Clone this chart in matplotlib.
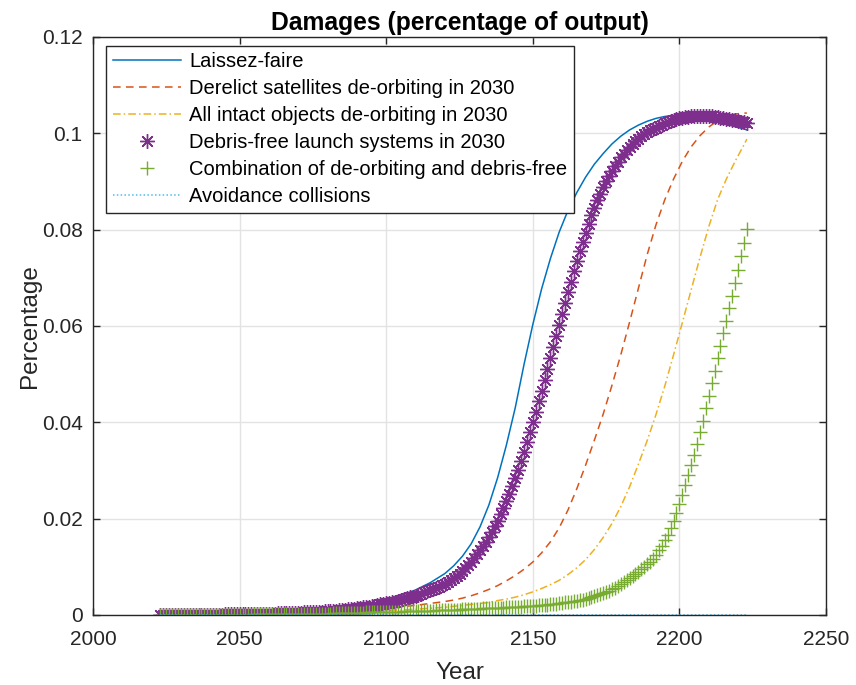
import matplotlib
matplotlib.use("Agg")
import matplotlib.pyplot as plt
from matplotlib.ticker import FormatStrFormatter

plt.rcParams['font.family'] = ['Liberation Sans', 'DejaVu Sans']

# yearly points for the marker series
years = list(range(2023, 2224))

# points for the plain line series (denser where the curves bend)
line_years = [2023, 2030, 2040, 2050, 2060, 2070, 2080, 2090, 2100, 2105, 2110, 2115,
              2120, 2123, 2126, 2129, 2132, 2135, 2138, 2141, 2144, 2147, 2150, 2153,
              2156, 2159, 2162, 2165, 2168, 2171, 2174, 2177, 2180, 2183, 2186, 2189,
              2192, 2195, 2198, 2201, 2204, 2207, 2210, 2213, 2216, 2219, 2222, 2223]

laissez_faire = [0.0000, 0.0001, 0.0001, 0.0002, 0.0003, 0.0005, 0.0009, 0.0017, 0.0030, 0.0040, 0.0052, 0.0067,
                 0.0086, 0.0102, 0.0122, 0.0148, 0.0183, 0.0228, 0.0285, 0.0353, 0.0430, 0.0520, 0.0603, 0.0677,
                 0.0740, 0.0795, 0.0840, 0.0877, 0.0909, 0.0936, 0.0958, 0.0978, 0.0994, 0.1007, 0.1017, 0.1025,
                 0.1031, 0.1035, 0.1037, 0.1037, 0.1035, 0.1032, 0.1028, 0.1024, 0.1019, 0.1014, 0.1009, 0.1007]

derelict = [0.0000, 0.0001, 0.0001, 0.0002, 0.0003, 0.0005, 0.0007, 0.0010, 0.0014, 0.0017, 0.0020, 0.0024,
            0.0028, 0.0031, 0.0035, 0.0040, 0.0046, 0.0053, 0.0061, 0.0071, 0.0082, 0.0095, 0.0110, 0.0129,
            0.0152, 0.0181, 0.0218, 0.0262, 0.0311, 0.0363, 0.0417, 0.0477, 0.0540, 0.0608, 0.0678, 0.0748,
            0.0810, 0.0862, 0.0905, 0.0942, 0.0972, 0.0995, 0.1013, 0.1026, 0.1035, 0.1040, 0.1042, 0.1042]

intact = [0.0000, 0.0000, 0.0001, 0.0001, 0.0002, 0.0003, 0.0005, 0.0007, 0.0009, 0.0010, 0.0012, 0.0014,
          0.0016, 0.0018, 0.0020, 0.0022, 0.0024, 0.0026, 0.0030, 0.0033, 0.0037, 0.0042, 0.0048, 0.0055,
          0.0063, 0.0072, 0.0084, 0.0098, 0.0115, 0.0136, 0.0161, 0.0190, 0.0225, 0.0266, 0.0313, 0.0362,
          0.0416, 0.0475, 0.0540, 0.0607, 0.0675, 0.0742, 0.0806, 0.0862, 0.0905, 0.0942, 0.0976, 0.0988]

avoidance = [0.0] * len(line_years)

debris_free = [
    0.0000, 0.0000, 0.0001, 0.0001, 0.0001, 0.0001, 0.0001,                          # 2023-2029
    0.0001, 0.0001, 0.0001, 0.0001, 0.0001, 0.0001, 0.0001, 0.0001, 0.0001, 0.0001,  # 2030s
    0.0001, 0.0001, 0.0001, 0.0001, 0.0001, 0.0002, 0.0002, 0.0002, 0.0002, 0.0002,  # 2040s
    0.0002, 0.0002, 0.0002, 0.0002, 0.0002, 0.0003, 0.0003, 0.0003, 0.0003, 0.0003,  # 2050s
    0.0003, 0.0003, 0.0003, 0.0004, 0.0004, 0.0004, 0.0004, 0.0004, 0.0005, 0.0005,  # 2060s
    0.0005, 0.0005, 0.0006, 0.0006, 0.0006, 0.0006, 0.0007, 0.0007, 0.0007, 0.0008,  # 2070s
    0.0008, 0.0008, 0.0009, 0.0009, 0.0010, 0.0010, 0.0011, 0.0012, 0.0012, 0.0013,  # 2080s
    0.0014, 0.0015, 0.0016, 0.0016, 0.0017, 0.0018, 0.0019, 0.0020, 0.0022, 0.0023,  # 2090s
    0.0024, 0.0025, 0.0027, 0.0028, 0.0030, 0.0031, 0.0033, 0.0035, 0.0037, 0.0038,  # 2100s
    0.0040, 0.0042, 0.0044, 0.0047, 0.0049, 0.0052, 0.0054, 0.0057, 0.0059, 0.0062,  # 2110s
    0.0065, 0.0069, 0.0073, 0.0077, 0.0081, 0.0086, 0.0092, 0.0098, 0.0104, 0.0111,  # 2120s
    0.0118, 0.0126, 0.0134, 0.0143, 0.0152, 0.0162, 0.0173, 0.0184, 0.0196, 0.0209,  # 2130s
    0.0222, 0.0237, 0.0252, 0.0268, 0.0285, 0.0302, 0.0320, 0.0339, 0.0359, 0.0379,  # 2140s
    0.0400, 0.0422, 0.0444, 0.0466, 0.0488, 0.0510, 0.0533, 0.0556, 0.0579, 0.0602,  # 2150s
    0.0625, 0.0648, 0.0670, 0.0692, 0.0714, 0.0735, 0.0755, 0.0775, 0.0794, 0.0812,  # 2160s
    0.0830, 0.0846, 0.0861, 0.0875, 0.0888, 0.0900, 0.0911, 0.0922, 0.0932, 0.0941,  # 2170s
    0.0950, 0.0958, 0.0965, 0.0972, 0.0978, 0.0984, 0.0989, 0.0994, 0.0998, 0.1002,  # 2180s
    0.1006, 0.1009, 0.1012, 0.1015, 0.1018, 0.1021, 0.1023, 0.1025, 0.1027, 0.1029,  # 2190s
    0.1031, 0.1032, 0.1033, 0.1034, 0.1035, 0.1036, 0.1036, 0.1036, 0.1036, 0.1036,  # 2200s
    0.1035, 0.1035, 0.1034, 0.1033, 0.1032, 0.1031, 0.1030, 0.1029, 0.1028, 0.1027,  # 2210s
    0.1025, 0.1024, 0.1023, 0.1021,                                                  # 2220-2223
]

combination = [
    0.0000, 0.0000, 0.0000, 0.0000, 0.0000, 0.0000, 0.0000,                          # 2023-2029
    0.0000, 0.0000, 0.0000, 0.0000, 0.0000, 0.0001, 0.0001, 0.0001, 0.0001, 0.0001,  # 2030s
    0.0001, 0.0001, 0.0001, 0.0001, 0.0001, 0.0001, 0.0001, 0.0001, 0.0001, 0.0001,  # 2040s
    0.0001, 0.0001, 0.0001, 0.0001, 0.0001, 0.0002, 0.0002, 0.0002, 0.0002, 0.0002,  # 2050s
    0.0002, 0.0002, 0.0002, 0.0002, 0.0002, 0.0002, 0.0002, 0.0002, 0.0002, 0.0002,  # 2060s
    0.0002, 0.0002, 0.0003, 0.0003, 0.0003, 0.0003, 0.0003, 0.0003, 0.0003, 0.0003,  # 2070s
    0.0003, 0.0003, 0.0004, 0.0004, 0.0004, 0.0004, 0.0004, 0.0005, 0.0005, 0.0005,  # 2080s
    0.0005, 0.0005, 0.0005, 0.0006, 0.0006, 0.0006, 0.0006, 0.0006, 0.0006, 0.0006,  # 2090s
    0.0006, 0.0007, 0.0007, 0.0007, 0.0007, 0.0007, 0.0008, 0.0008, 0.0008, 0.0008,  # 2100s
    0.0008, 0.0008, 0.0009, 0.0009, 0.0009, 0.0009, 0.0009, 0.0010, 0.0010, 0.0010,  # 2110s
    0.0010, 0.0010, 0.0011, 0.0011, 0.0011, 0.0011, 0.0012, 0.0012, 0.0012, 0.0013,  # 2120s
    0.0013, 0.0013, 0.0013, 0.0014, 0.0014, 0.0014, 0.0014, 0.0015, 0.0015, 0.0015,  # 2130s
    0.0015, 0.0016, 0.0016, 0.0016, 0.0017, 0.0017, 0.0017, 0.0018, 0.0018, 0.0018,  # 2140s
    0.0019, 0.0019, 0.0020, 0.0020, 0.0021, 0.0021, 0.0022, 0.0022, 0.0023, 0.0024,  # 2150s
    0.0025, 0.0026, 0.0027, 0.0028, 0.0029, 0.0030, 0.0031, 0.0032, 0.0034, 0.0035,  # 2160s
    0.0037, 0.0039, 0.0041, 0.0043, 0.0045, 0.0047, 0.0050, 0.0053, 0.0056, 0.0060,  # 2170s
    0.0064, 0.0068, 0.0072, 0.0076, 0.0080, 0.0085, 0.0090, 0.0095, 0.0100, 0.0105,  # 2180s
    0.0110, 0.0117, 0.0125, 0.0134, 0.0144, 0.0155, 0.0167, 0.0181, 0.0196, 0.0212,  # 2190s
    0.0230, 0.0249, 0.0269, 0.0290, 0.0311, 0.0333, 0.0355, 0.0379, 0.0403, 0.0429,  # 2200s
    0.0455, 0.0481, 0.0507, 0.0533, 0.0559, 0.0585, 0.0611, 0.0637, 0.0663, 0.0689,  # 2210s
    0.0717, 0.0745, 0.0773, 0.0801,                                                  # 2220-2223
]

labels = ['Laissez-faire',
          'Derelict satellites de-orbiting in 2030',
          'All intact objects de-orbiting in 2030',
          'Debris-free launch systems in 2030',
          'Combination of de-orbiting and debris-free',
          'Avoidance collisions']

# MATLAB default colour order
c_blue, c_orange, c_yellow = '#0072BD', '#D95319', '#EDB120'
c_purple, c_green, c_cyan = '#7E2F8E', '#77AC30', '#4DBEEE'
dark = '#262626'

fig = plt.figure(figsize=(8.56, 6.85), dpi=100)
ax = fig.add_axes([0.1086, 0.1022, 0.8564, 0.8438])

ax.plot(line_years, laissez_faire, color=c_blue, lw=1.1, label=labels[0])
ax.plot(line_years, derelict, color=c_orange, lw=1.1, ls=(0, (5, 3.5)), label=labels[1])
ax.plot(line_years, intact, color=c_yellow, lw=1.1, ls=(0, (5, 2, 1, 2)), label=labels[2])
ax.plot(years, debris_free, color=c_purple, ls='none', marker=(8, 2, 0), ms=10.5,
        mew=1.0, label=labels[3])
ax.plot(years, combination, color=c_green, ls='none', marker='+', ms=10,
        mew=1.0, label=labels[4])
ax.plot(line_years, avoidance, color=c_cyan, lw=1.1, ls=(0, (1, 1.5)), label=labels[5])

ax.set_xlim(2000, 2250)
ax.set_ylim(0, 0.12)
ax.set_xticks([2000, 2050, 2100, 2150, 2200, 2250])
ax.set_yticks([0, 0.02, 0.04, 0.06, 0.08, 0.1, 0.12])
ax.yaxis.set_major_formatter(FormatStrFormatter('%g'))

ax.grid(True, color='#E3E3E3', lw=1.0)
ax.set_axisbelow(True)
for s in ax.spines.values():
    s.set_color(dark)
    s.set_linewidth(1.0)
ax.tick_params(direction='in', length=5, width=1.0, colors=dark, labelsize=15,
               top=True, right=True)
ax.tick_params(axis='x', pad=11)
ax.tick_params(axis='y', pad=7.5)

ax.set_xlabel('Year', fontsize=17.5, color=dark, labelpad=9)
ax.set_ylabel('Percentage', fontsize=17.5, color=dark, labelpad=0.5)
ax.set_title('Damages (percentage of output)', fontsize=17.7, fontweight='bold', pad=5)

leg = ax.legend(loc='upper left', bbox_to_anchor=(0.018, 0.985), fontsize=14.5,
                frameon=True, fancybox=False, edgecolor=dark, framealpha=1,
                handlelength=3.4, handletextpad=0.4, labelspacing=0.4,
                borderpad=0.32, borderaxespad=0)
leg.get_frame().set_linewidth(1.0)

fig.savefig('out.png', dpi=100)
